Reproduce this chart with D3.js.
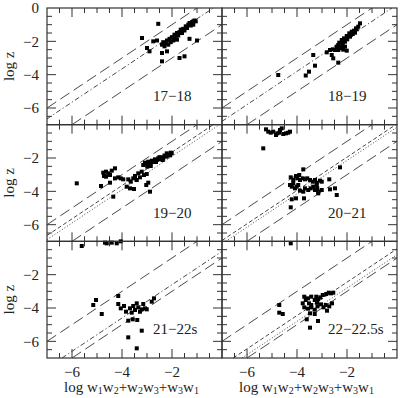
<!DOCTYPE html>
<html>
<head>
<meta charset="utf-8">
<script src="https://cdn.jsdelivr.net/npm/d3@7"></script>
<style>
  body { margin: 0; background: #fff; }
  svg { display: block; }
  text { font-family: "Liberation Serif", "DejaVu Serif", serif; fill: #222; }
</style>
</head>
<body>
<svg id="chart" width="400" height="398"></svg>
<script>
// panel names, in reading order
const panelNames = ["17−18", "18−19", "19−20", "20−21", "21−22s", "22−22.5s"];
const xTickLabels = [-6, -4, -2];
const yTickLabels = [-6, -4, -2, 0];

// points (log w1w2+w2w3+w3w1, log z) per panel
const pts17_18 = [
    [-3.2, -1.8], [-2.55, -0.95], [-3.0, -2.4], [-2.9, -2.6], [-2.75, -2.0], [-2.6, -1.95],
    [-2.4, -2.7], [-2.4, -3.2], [-2.2, -2.6], [-1.7, -3.0], [-1.5, -2.9], [-1.3, -1.85], [-1.0, -1.95],
    [-2.4, -2.2], [-2.35, -2.05], [-2.3, -2.3], [-2.25, -2.1], [-2.2, -1.95], [-2.15, -2.2],
    [-2.1, -1.85], [-2.05, -2.05], [-2.0, -1.75], [-1.95, -1.95], [-1.9, -1.6], [-1.85, -1.75],
    [-1.8, -1.5], [-1.8, -1.9], [-1.75, -1.65], [-1.7, -1.45], [-1.65, -1.3], [-1.6, -1.5],
    [-1.55, -1.25], [-1.5, -1.35], [-1.45, -1.1], [-1.4, -1.2], [-1.35, -1.0], [-1.3, -0.9],
    [-1.25, -1.05], [-1.2, -0.85], [-1.15, -0.8], [-1.1, -0.75], [-1.05, -0.8], [-1.15, -1.0]
];
const pts18_19 = [
    [-4.75, -4.02], [-3.65, -4.05], [-3.52, -3.82], [-3.35, -2.82], [-3.28, -3.46], [-2.81, -2.66],
    [-2.61, -2.82], [-2.55, -3.02], [-2.35, -3.28], [-2.01, -2.56], [-2.15, -2.5],
    [-2.68, -2.52], [-2.57, -2.48], [-2.48, -2.52], [-2.41, -2.32], [-2.35, -2.22], [-2.28, -2.42],
    [-2.31, -2.08], [-2.21, -1.92], [-2.17, -2.16], [-2.12, -1.82], [-2.08, -2.02], [-2.01, -1.68],
    [-1.99, -1.88], [-1.91, -1.52], [-1.88, -1.72], [-1.81, -1.42], [-1.77, -1.56], [-1.72, -1.36],
    [-1.68, -1.48], [-1.61, -1.28], [-1.55, -1.12], [-1.48, -0.92], [-1.64, -1.22], [-1.85, -1.62],
    [-2.21, -2.32], [-2.35, -2.52], [-2.08, -2.32]
];
const pts19_20 = [
    [-5.81, -3.52], [-4.84, -3.68], [-4.35, -4.32],
    [-4.75, -2.88], [-4.64, -2.82], [-4.55, -2.92], [-4.41, -2.76], [-4.28, -2.62], [-4.64, -3.12],
    [-4.48, -3.02], [-4.72, -3.08], [-4.48, -3.48],
    [-4.28, -3.22], [-4.15, -3.16], [-4.05, -3.22], [-3.95, -3.28],
    [-3.81, -3.72], [-3.68, -3.82], [-3.52, -3.86],
    [-3.75, -3.28], [-3.65, -3.42], [-3.55, -3.22], [-3.41, -3.32], [-3.48, -3.08], [-3.35, -2.92],
    [-3.28, -3.16], [-3.21, -2.82], [-3.12, -3.02], [-3.01, -2.96],
    [-3.03, -3.62], [-2.95, -3.48], [-2.88, -4.02],
    [-3.15, -2.42], [-3.08, -2.28], [-3.01, -2.36], [-2.95, -2.22], [-2.88, -2.32], [-2.81, -2.16],
    [-2.75, -2.24], [-2.68, -2.08], [-2.61, -2.12], [-2.55, -2.02], [-2.48, -2.08], [-2.41, -1.96],
    [-2.35, -2.02], [-2.28, -1.88], [-2.21, -1.92], [-2.15, -1.8], [-2.08, -1.84], [-2.01, -1.72],
    [-2.37, -2.12], [-2.64, -2.24], [-2.85, -2.48], [-2.99, -2.52], [-2.21, -1.72], [-2.05, -1.68],
    [-2.5, -1.95], [-2.3, -1.85]
];
const pts20_21 = [
    [-5.24, -0.28], [-5.15, -0.42], [-5.05, -0.48], [-4.95, -0.42], [-4.84, -0.62], [-4.79, -0.52],
    [-4.68, -0.32], [-4.61, -0.22], [-4.55, -0.56], [-4.44, -0.52], [-4.35, -0.48], [-4.28, -0.42],
    [-4.71, -0.48], [-5.35, -1.42],
    [-3.75, -2.68], [-2.28, -2.56],
    [-4.25, -3.16], [-4.15, -3.32], [-4.04, -3.08], [-3.99, -3.22], [-3.91, -3.02], [-3.88, -3.32],
    [-3.77, -3.22], [-3.68, -3.28], [-3.59, -3.22], [-3.48, -3.32], [-3.37, -3.42], [-3.28, -3.32],
    [-3.21, -3.48], [-3.08, -3.36], [-3.01, -3.42],
    [-4.28, -3.62], [-4.21, -3.72], [-4.15, -3.52], [-4.08, -3.82], [-4.01, -3.72], [-3.95, -3.62],
    [-3.88, -3.96], [-3.75, -4.02], [-3.68, -3.82], [-3.55, -3.92], [-3.45, -3.82], [-3.35, -3.72],
    [-3.28, -3.92], [-3.19, -3.82], [-3.15, -4.02], [-3.01, -3.92], [-3.21, -3.62],
    [-4.21, -4.48], [-4.04, -4.42], [-3.72, -4.42], [-4.25, -4.96],
    [-2.71, -3.28], [-2.68, -3.88], [-2.48, -3.82], [-2.41, -4.22], [-3.15, -4.12]
];
const pts21_22 = [
    [-5.61, -0.28], [-4.68, -0.08], [-4.61, -0.12], [-4.41, -0.08], [-4.21, -0.12], [-4.05, 0.0],
    [-5.15, -3.82], [-5.04, -3.52], [-4.81, -4.36], [-4.15, -3.28], [-4.15, -3.76], [-4.05, -4.02],
    [-3.92, -3.88], [-3.84, -4.22], [-3.75, -4.76], [-3.68, -4.02], [-3.57, -4.68], [-3.55, -3.88],
    [-3.48, -4.12], [-3.41, -3.72], [-3.39, -4.72], [-3.35, -3.96], [-3.28, -4.22], [-3.21, -4.08],
    [-3.15, -3.76], [-3.08, -4.02], [-3.01, -4.08], [-2.81, -3.62], [-2.72, -3.42],
    [-3.75, -5.76], [-3.41, -6.42], [-3.21, -5.36], [-3.61, -4.28]
];
const pts22_225 = [
    [-4.25, -0.12],
    [-4.71, -3.82], [-4.71, -4.28], [-4.57, -4.36], [-3.71, -3.32], [-3.77, -3.72],
    [-3.65, -3.52], [-3.56, -3.42], [-3.43, -3.32], [-3.29, -3.52], [-3.23, -3.32], [-3.16, -3.48],
    [-3.07, -3.36], [-2.97, -3.22], [-2.83, -3.16], [-2.73, -3.08], [-2.64, -3.12], [-2.55, -3.08],
    [-3.71, -3.96], [-3.56, -4.04], [-3.43, -3.96], [-3.29, -4.1], [-3.18, -3.9], [-3.04, -3.78],
    [-2.94, -3.96], [-2.8, -4.16], [-2.71, -3.9], [-2.6, -3.72], [-2.85, -3.82], [-3.43, -3.82],
    [-3.52, -3.72], [-3.2, -3.68],
    [-3.61, -4.68], [-3.16, -4.78], [-3.48, -5.18], [-3.29, -4.36], [-3.48, -4.32]
];
const panelPoints = [pts17_18, pts18_19, pts19_20, pts20_21, pts21_22, pts22_225];

// slope-1 reference lines: log z = log w + c, intercepts per line kind
const longDashC = [[1, -1], [1, -1], [1, -1], [1, -1], [1, -1], [1, -1]];
const dashDotC = [[0.35], [0.2], [], [], [-0.6], []];
const shortDashC = [[], [], [0.35], [0.05], [], [-0.45]];
const dottedC = [[], [], [0.1], [-0.15], [], [-0.8]];

const dashes = { long: "11,5", dashdot: "5,2.5,1.2,2.5", short: "4,2.5", dot: "1,2" };

const svg = d3.select("#chart");
const marginLeft = 47, marginTop = 8, pw = 175, ph = 116.67;
const domain = [-7, 0];
const x = d3.scaleLinear().domain(domain).range([0, pw]);
const y = d3.scaleLinear().domain(domain).range([ph, 0]);
const ticks = d3.range(-6.5, 0, 0.5);
const line = d3.line().x(d => x(d[0])).y(d => y(d[1]));

// segment of y = x + c inside the box
const segment = c => {
    const x0 = Math.max(domain[0], domain[0] - c);
    const x1 = Math.min(domain[1], domain[1] - c);
    return [[x0, x0 + c], [x1, x1 + c]];
};

panelNames.forEach((name, i) => {
    const col = i % 2, row = Math.floor(i / 2);
    const g = svg.append("g")
        .attr("transform", `translate(${marginLeft + col * pw}, ${marginTop + row * ph})`);

    const kinds = [["long", longDashC[i]], ["dashdot", dashDotC[i]], ["short", shortDashC[i]], ["dot", dottedC[i]]];
    kinds.forEach(([kind, cs]) => {
        g.selectAll(null)
            .data(cs)
            .join("path")
            .attr("d", c => line(segment(c)))
            .attr("fill", "none")
            .attr("stroke", "#333")
            .attr("stroke-width", 0.9)
            .attr("stroke-dasharray", dashes[kind]);
    });

    g.selectAll(".pt")
        .data(panelPoints[i])
        .join("rect")
        .attr("x", d => x(d[0]) - 2)
        .attr("y", d => y(d[1]) - 2)
        .attr("width", 4)
        .attr("height", 4)
        .attr("fill", "#000");

    // frame and inward ticks on all sides
    g.append("rect")
        .attr("width", pw)
        .attr("height", ph)
        .attr("fill", "none")
        .attr("stroke", "#333")
        .attr("stroke-width", 1.2);
    const len = v => (v % 2 === 0 ? 9 : 5);
    const tk = g.append("g").attr("stroke", "#333").attr("stroke-width", 1);
    ticks.forEach(v => {
        tk.append("line").attr("x1", x(v)).attr("x2", x(v)).attr("y1", ph).attr("y2", ph - len(v));
        tk.append("line").attr("x1", x(v)).attr("x2", x(v)).attr("y1", 0).attr("y2", len(v));
        tk.append("line").attr("y1", y(v)).attr("y2", y(v)).attr("x1", 0).attr("x2", len(v));
        tk.append("line").attr("y1", y(v)).attr("y2", y(v)).attr("x1", pw).attr("x2", pw - len(v));
    });

    g.append("text")
        .attr("x", 106)
        .attr("y", 93)
        .attr("font-size", 15)
        .text(name);

    if (col === 0) {
        g.selectAll(".ylab")
            .data(yTickLabels.filter(v => v !== 0 || row === 0))
            .join("text")
            .attr("x", -8)
            .attr("y", d => y(d))
            .attr("dy", "0.35em")
            .attr("text-anchor", "end")
            .attr("font-size", 15)
            .text(d => d3.format("")(d).replace("-", "−"));
        g.append("text")
            .attr("transform", `translate(${-33}, ${ph / 2}) rotate(-90)`)
            .attr("text-anchor", "middle")
            .attr("font-size", 15)
            .text("log z");
    }
    if (row === 2) {
        g.selectAll(".xlab")
            .data(xTickLabels)
            .join("text")
            .attr("x", d => x(d))
            .attr("y", ph + 19)
            .attr("text-anchor", "middle")
            .attr("font-size", 15)
            .text(d => d3.format("")(d).replace("-", "−"));
        const t = g.append("text")
            .attr("x", pw / 2 - 3)
            .attr("y", ph + 34)
            .attr("text-anchor", "middle")
            .attr("font-size", 15);
        t.append("tspan").text("log  w");
        const parts = [["1", "w"], ["2", "+w"], ["2", "w"], ["3", "+w"], ["3", "w"], ["1", ""]];
        parts.forEach(([sub, rest]) => {
            t.append("tspan").attr("font-size", 10).attr("dy", 2.5).text(sub);
            t.append("tspan").attr("dy", -2.5).text(rest);
        });
    }
});
</script>
</body>
</html>
